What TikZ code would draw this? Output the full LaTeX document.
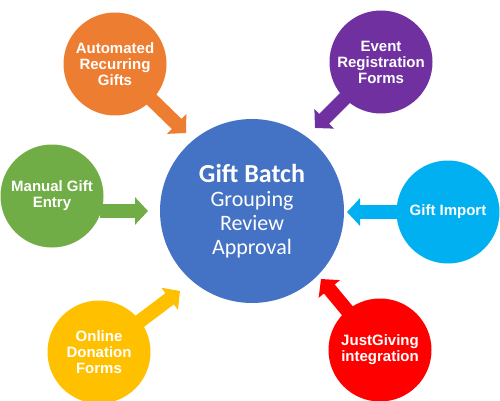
\documentclass[tikz,border=0pt]{standalone}
\usepackage{fontspec}
\usetikzlibrary{arrows.meta}
\newfontfamily\bubblefont{Liberation Sans}
\newfontfamily\hubfont{Carlito}
\definecolor{hubblue}{HTML}{4472C4}
\definecolor{autoorange}{HTML}{ED7D31}
\definecolor{eventpurple}{HTML}{7030A0}
\definecolor{manualgreen}{HTML}{70AD47}
\definecolor{importcyan}{HTML}{00B0F0}
\definecolor{onlineyellow}{HTML}{FFC000}
\definecolor{justred}{HTML}{FF0000}

\begin{document}
\begin{tikzpicture}[x=1pt,y=-1pt,
  bubble/.style={circle,fill=#1,text=white,minimum size=103pt,inner sep=0pt,
    align=center,font=\bubblefont\bfseries\fontsize{15}{16}\selectfont},
  feed/.style={draw=#1,line width=14pt,shorten <=-4pt,
    -{Triangle[width=27pt,length=13pt]}}]
\useasboundingbox (0,0) rectangle (500,401);
% the batch in the middle
\node[circle,fill=hubblue,minimum size=184pt,inner sep=0pt,text=white,align=center,
  font=\hubfont\fontsize{22}{24}\selectfont] (hub) at (252,211)
  {{\bfseries\fontsize{26}{26}\selectfont Gift Batch}\\Grouping\\Review\\Approval};
% sources round it
\node[bubble=autoorange] (auto) at (115,64) {Automated\\Recurring\\Gifts};
\node[bubble=eventpurple] (event) at (381,62) {Event\\Registration\\Forms};
\node[bubble=manualgreen] (manual) at (52,196) {Manual Gift\\Entry};
\node[bubble=importcyan] (import) at (448,212) {Gift Import};
\node[bubble=onlineyellow] (online) at (99,352) {Online\\Donation\\Forms};
\node[bubble=justred] (just) at (380,350) {JustGiving\\integration};
% arrow ends
\coordinate (tipA) at (186,133);
\coordinate (tipE) at (315,128);
\coordinate (tipM) at (148,211);
\coordinate (tipI) at (347,212);
\coordinate (tipO) at (180,291);
\coordinate (tipJ) at (321,279);
\draw[feed=autoorange] (auto) -- (tipA);
\draw[feed=eventpurple] (event) -- (tipE);
\draw[feed=manualgreen] (manual.east |- tipM) -- (tipM);
\draw[feed=importcyan] (import) -- (tipI);
\draw[feed=onlineyellow] (online) -- (tipO);
\draw[feed=justred] (just) -- (tipJ);
\end{tikzpicture}
\end{document}
